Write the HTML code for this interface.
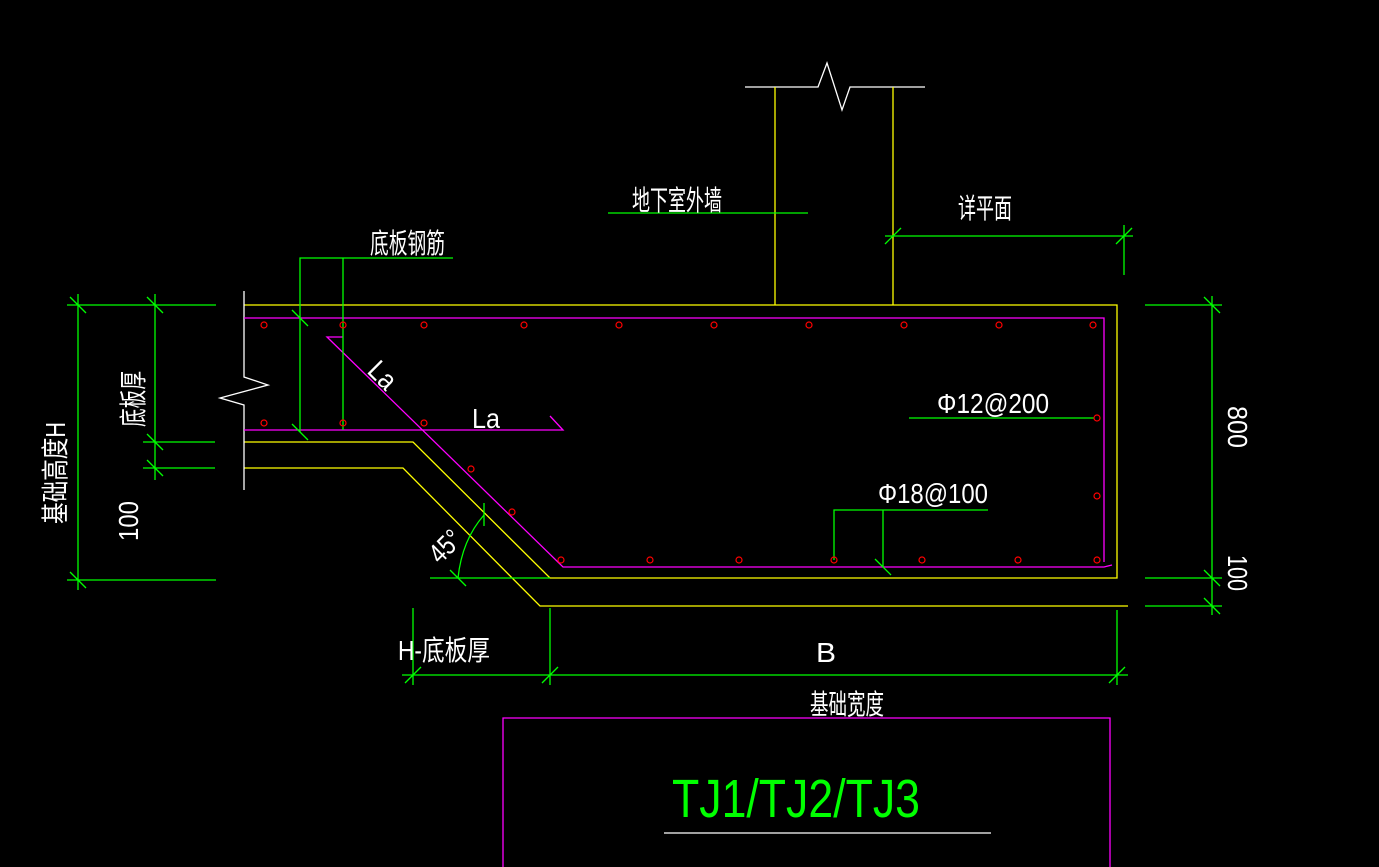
<!DOCTYPE html>
<html><head><meta charset="utf-8"><style>
html,body{margin:0;padding:0;background:#000;}
svg{display:block;}
text{font-family:"Liberation Sans","Noto Sans CJK SC",sans-serif;fill:#fff;}
</style></head><body>
<svg width="1379" height="867" viewBox="0 0 1379 867" xmlns="http://www.w3.org/2000/svg">
<rect width="1379" height="867" fill="#000"/>
<g fill="none" stroke-width="1.3">
<!-- wall -->
<polyline stroke="#fff" points="745,87 818,87 827,63 842,110 850,87 925,87"/>
<line stroke="#ff0" x1="775" y1="87" x2="775" y2="305"/>
<line stroke="#ff0" x1="893" y1="87" x2="893" y2="305"/>
<!-- concrete outline -->
<polyline stroke="#ff0" points="244,305 1117,305 1117,578 550,578 413,442 244,442"/>
<polyline stroke="#ff0" points="244,468 403,468 540,606 1128,606"/>
<polyline stroke="#fff" points="244,291 244,377 268,385 220,398 244,405 244,490"/>
<!-- rebars -->
<polyline stroke="#f0f" points="244,318 1104,318 1104,562"/>
<polyline stroke="#f0f" points="244,430 563,430 550,416"/>
<polyline stroke="#f0f" points="343,337 327,337 563,567 1104,567 1112,565"/>
<!-- leaders -->
<line stroke="#0f0" x1="608" y1="213" x2="808" y2="213"/>
<line stroke="#0f0" x1="885" y1="236" x2="1133" y2="236"/>
<line stroke="#0f0" x1="1124" y1="225" x2="1124" y2="275"/>
<polyline stroke="#0f0" points="453,258 300,258 300,432"/>
<line stroke="#0f0" x1="343" y1="258" x2="343" y2="430"/>
<line stroke="#0f0" x1="909" y1="418" x2="1094" y2="418"/>
<polyline stroke="#0f0" points="988,510 834,510 834,560"/>
<line stroke="#0f0" x1="883" y1="510" x2="883" y2="567"/>
<!-- left dims -->
<line stroke="#0f0" x1="78" y1="294" x2="78" y2="590"/>
<line stroke="#0f0" x1="155" y1="294" x2="155" y2="480"/>
<line stroke="#0f0" x1="67" y1="305" x2="216" y2="305"/>
<line stroke="#0f0" x1="67" y1="580" x2="216" y2="580"/>
<line stroke="#0f0" x1="143" y1="442" x2="215" y2="442"/>
<line stroke="#0f0" x1="143" y1="468" x2="215" y2="468"/>
<!-- 45 angle -->
<line stroke="#0f0" x1="430" y1="578" x2="550" y2="578"/>
<line stroke="#0f0" x1="484" y1="503" x2="484" y2="526"/>
<path stroke="#0f0" d="M484,515 Q462,540 458,578"/>
<!-- right dims -->
<line stroke="#0f0" x1="1212" y1="296" x2="1212" y2="615"/>
<line stroke="#0f0" x1="1145" y1="305" x2="1222" y2="305"/>
<line stroke="#0f0" x1="1145" y1="578" x2="1222" y2="578"/>
<line stroke="#0f0" x1="1145" y1="606" x2="1222" y2="606"/>
<!-- bottom dims -->
<line stroke="#0f0" x1="413" y1="608" x2="413" y2="685"/>
<line stroke="#0f0" x1="550" y1="608" x2="550" y2="685"/>
<line stroke="#0f0" x1="1117" y1="610" x2="1117" y2="685"/>
<line stroke="#0f0" x1="402" y1="675" x2="1128" y2="675"/>
<!-- ticks -->
<g stroke="#0f0">
<line x1="70" y1="297" x2="86" y2="313"/><line x1="147" y1="297" x2="163" y2="313"/>
<line x1="70" y1="572" x2="86" y2="588"/><line x1="147" y1="434" x2="163" y2="450"/>
<line x1="147" y1="460" x2="163" y2="476"/>
<line x1="1204" y1="297" x2="1220" y2="313"/><line x1="1204" y1="570" x2="1220" y2="586"/>
<line x1="1204" y1="598" x2="1220" y2="614"/>
<line x1="405" y1="683" x2="421" y2="667"/><line x1="542" y1="683" x2="558" y2="667"/>
<line x1="1109" y1="683" x2="1125" y2="667"/>
<line x1="885" y1="244" x2="901" y2="228"/><line x1="1116" y1="244" x2="1132" y2="228"/>
<line x1="292" y1="310" x2="308" y2="326"/><line x1="292" y1="424" x2="308" y2="440"/>
<line x1="875" y1="559" x2="891" y2="575"/><line x1="450" y1="570" x2="466" y2="586"/>
</g>
<!-- bottom box -->
<polyline stroke="#f0f" points="503,867 503,718 1110,718 1110,867"/>
<line stroke="#fff" x1="664" y1="833" x2="991" y2="833"/>
</g>
<g fill="none" stroke="#f00" stroke-width="1.2">
<circle cx="264" cy="325" r="3"/><circle cx="343" cy="325" r="3"/><circle cx="424" cy="325" r="3"/><circle cx="524" cy="325" r="3"/><circle cx="619" cy="325" r="3"/><circle cx="714" cy="325" r="3"/><circle cx="809" cy="325" r="3"/><circle cx="904" cy="325" r="3"/><circle cx="999" cy="325" r="3"/><circle cx="1093" cy="325" r="3"/>
<circle cx="264" cy="423" r="3"/><circle cx="343" cy="423" r="3"/><circle cx="424" cy="423" r="3"/>
<circle cx="471" cy="469" r="3"/><circle cx="512" cy="512" r="3"/><circle cx="561" cy="560" r="3"/>
<circle cx="650" cy="560" r="3"/><circle cx="739" cy="560" r="3"/><circle cx="834" cy="560" r="3"/><circle cx="922" cy="560" r="3"/><circle cx="1018" cy="560" r="3"/><circle cx="1097" cy="560" r="3"/>
<circle cx="1097" cy="418" r="3"/><circle cx="1097" cy="496" r="3"/>
</g>
<g font-size="28">
<text x="632" y="210" textLength="90" lengthAdjust="spacingAndGlyphs">地下室外墙</text>
<text x="958" y="218" textLength="54" lengthAdjust="spacingAndGlyphs">详平面</text>
<text x="370" y="253" textLength="75" lengthAdjust="spacingAndGlyphs">底板钢筋</text>
<text x="472" y="428" textLength="28" lengthAdjust="spacingAndGlyphs">La</text>
<text x="0" y="0" textLength="28" lengthAdjust="spacingAndGlyphs" transform="translate(366,372) rotate(45)">La</text>
<text x="937" y="413" textLength="112" lengthAdjust="spacingAndGlyphs">Φ12@200</text>
<text x="878" y="503" textLength="110" lengthAdjust="spacingAndGlyphs">Φ18@100</text>
<text x="398" y="660" textLength="92" lengthAdjust="spacingAndGlyphs">H-底板厚</text>
<text x="816" y="662" textLength="20" lengthAdjust="spacingAndGlyphs">B</text>
<text x="810" y="714" textLength="74" lengthAdjust="spacingAndGlyphs">基础宽度</text>
<text x="0" y="0" textLength="34" lengthAdjust="spacingAndGlyphs" transform="translate(440,565) rotate(-45)">45°</text>
<text x="0" y="0" textLength="102" lengthAdjust="spacingAndGlyphs" transform="translate(65,524) rotate(-90)">基础高度H</text>
<text x="0" y="0" textLength="56" lengthAdjust="spacingAndGlyphs" transform="translate(143,427) rotate(-90)">底板厚</text>
<text x="0" y="0" textLength="40" lengthAdjust="spacingAndGlyphs" transform="translate(138,541) rotate(-90)">100</text>
<text x="0" y="0" textLength="42" lengthAdjust="spacingAndGlyphs" transform="translate(1228,406) rotate(90)">800</text>
<text x="0" y="0" textLength="36" lengthAdjust="spacingAndGlyphs" transform="translate(1228,555) rotate(90)">100</text>
<text x="672" y="817" font-size="54" textLength="248" lengthAdjust="spacingAndGlyphs" style="fill:#0f0">TJ1/TJ2/TJ3</text>
</g>
</svg>
</body></html>
